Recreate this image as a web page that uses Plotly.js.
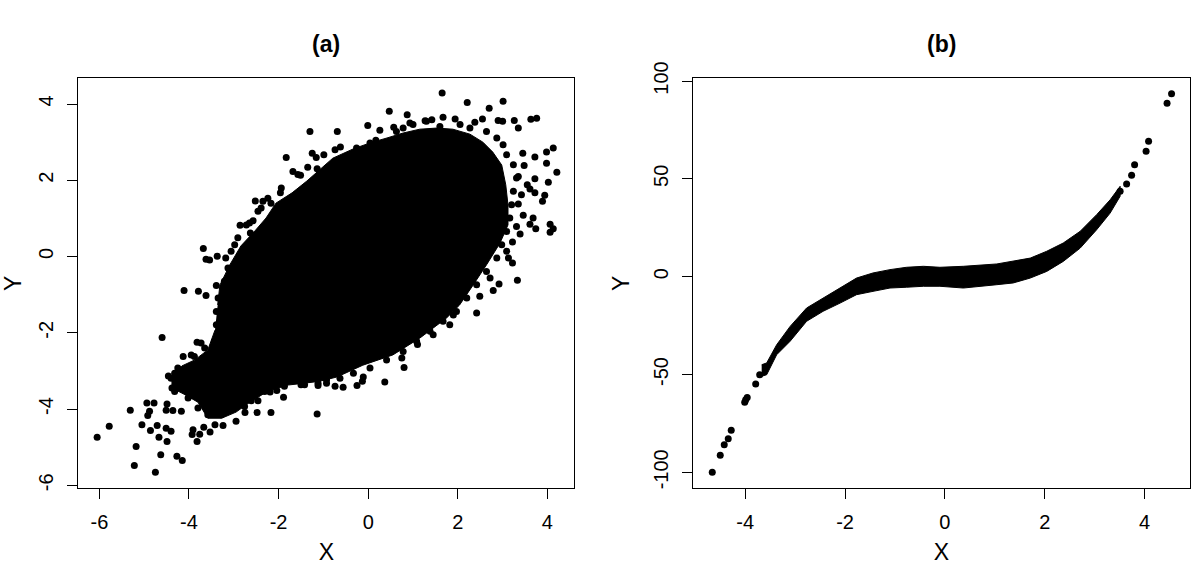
<!DOCTYPE html>
<html>
<head>
<meta charset="utf-8">
<script src="https://cdn.plot.ly/plotly-3.0.1.min.js"></script>
<style>
  html, body { margin: 0; padding: 0; background: #ffffff; }
  #chart { width: 1203px; height: 565px; }
</style>
</head>
<body>
<div id="chart"></div>
<script>
// panel (a): outline of the solid cloud, then the loose points around it
const cloudX = [-3.36,-3.31,-3.09,-2.84,-2.53,-2.28,-2.06,-1.70,-1.37,-1.08,-0.79,-0.34,0.04,0.42,0.78,1.15,1.53,1.89,2.27,2.56,2.78,2.98,3.07,3.12,3.12,2.94,2.65,2.34,2.04,1.75,1.15,0.55,-0.12,-0.70,-1.08,-1.41,-1.79,-2.24,-2.64,-2.95,-3.27,-3.58,-3.80,-4.11,-4.38,-4.38,-4.16,-3.87,-3.58,-3.42];
const cloudY = [-1.27,-0.75,-0.22,0.28,0.67,1.01,1.40,1.67,1.98,2.27,2.58,2.82,2.98,3.11,3.24,3.34,3.37,3.34,3.21,3.00,2.74,2.40,1.88,1.35,0.83,0.35,-0.20,-0.75,-1.27,-1.61,-2.14,-2.58,-2.85,-3.16,-3.27,-3.32,-3.37,-3.53,-3.82,-4.08,-4.24,-4.24,-3.82,-3.61,-3.45,-3.13,-2.87,-2.71,-2.45,-1.93];

// points sitting on the rim of the cloud, which give it its ragged edge
const rimX = [0.04,0.63,0.78,1.00,1.30,1.60,2.05,2.27,2.64,2.87,3.01,3.09,3.24,3.31,3.24,3.20,3.16,3.09,2.98,2.87,2.64,2.42,2.20,1.97,1.67,1.38,1.08,0.78,0.41,0.04,-0.33,-0.63,-0.93,
  -1.57,-1.94,-2.24,-2.46,-2.72,-2.91,-3.06,-3.13,-3.21,-3.35,-3.39,-3.39,-3.43,-3.65,-3.95,-4.25,-4.40,-4.32,-4.02,-3.80,-3.58,-3.21,-2.98,-2.69,-2.31,-1.87,-1.42,-1.12];
const rimY = [2.98,3.28,3.37,3.46,3.55,3.41,3.46,3.37,3.28,3.11,2.93,2.67,2.41,2.06,1.71,1.36,1.01,0.66,0.31,-0.04,-0.39,-0.74,-1.09,-1.44,-1.70,-1.96,-2.22,-2.49,-2.71,-2.92,-3.06,-3.19,-3.23,
  2.15,1.80,1.53,1.19,0.83,0.49,0.14,-0.30,-0.65,-1.09,-1.44,-1.79,-2.22,-2.40,-2.58,-2.92,-3.19,-3.54,-3.71,-3.97,-4.15,-4.06,-3.93,-3.71,-3.54,-3.40,-3.36,-3.32];

const looseX = [-1.30,-1.83,-1.25,-1.16,-0.99,-1.35,-1.68,-1.51,-1.14,-1.96,-2.17,-2.52,-2.35,-2.39,-2.86,-2.65,-2.57,-2.63,-3.68,-3.62,-3.54,-3.37,-3.18,-2.98,
  -4.11,-3.79,-3.62,-3.39,-4.60,-3.82,-3.73,-4.13,-3.88,-4.46,-4.32,-4.38,-4.25,-4.10,-4.94,-4.78,-5.31,-4.88,-4.92,-4.49,-4.51,-4.36,-4.17,-5.05,-4.86,-4.71,
  -4.51,-4.40,-4.67,-4.49,-5.78,-6.05,-5.18,-4.63,-4.27,-4.15,-5.22,-4.75,-3.91,-3.82,-3.93,-3.76,-3.67,-3.53,-3.42,-3.24,-2.95,-2.75,-2.48,-2.17,-1.14,-1.89,
  -2.19,-2.04,-2.61,-2.46,-2.76,-3.09,-3.28,-1.87,-1.50,-1.12,
  1.65,2.21,3.01,2.70,0.47,0.87,1.67,1.94,2.55,2.38,2.90,3.00,3.26,3.63,3.76,3.35,-0.01,-0.69,0.26,0.57,0.93,1.27,1.42,0.17,-0.74,-0.62,-0.26,
  4.13,3.98,3.72,3.98,3.45,3.48,4.21,3.35,4.02,3.72,3.55,3.61,3.72,3.94,3.89,3.42,3.35,3.46,3.68,3.61,3.74,4.06,4.13,4.06,3.39,3.31,3.22,3.09,3.13,3.22,
  3.33,2.92,2.79,2.72,2.49,2.42,1.90,1.82,1.45,1.10,0.75,0.80,0.37,-0.11,-0.13,-0.25,-0.56,-0.74,-0.93];
const looseY = [3.28,2.60,2.71,2.60,2.67,2.34,2.23,2.13,2.30,1.67,1.40,1.46,1.45,1.27,0.82,0.88,0.94,0.62,0.21,-0.07,-0.09,0.01,-0.04,0.31,
  -0.89,-0.91,-1.02,-0.76,-2.12,-2.25,-2.27,-2.62,-2.62,-3.13,-3.06,-3.45,-3.23,-3.01,-3.84,-3.84,-4.03,-4.06,-4.17,-3.87,-4.03,-4.04,-4.06,-4.41,-4.56,-4.43,
  -4.50,-4.58,-4.74,-4.85,-4.45,-4.74,-4.98,-5.20,-5.24,-5.35,-5.48,-5.66,-4.54,-4.85,-4.67,-4.66,-4.48,-4.60,-4.41,-4.43,-4.32,-4.09,-4.09,-4.09,-4.13,-3.69,
  -3.55,-3.51,-3.78,-3.78,-3.93,-3.84,-4.15,-3.29,-3.36,-3.38,
  4.29,4.04,4.07,3.89,3.81,3.72,3.65,3.61,3.61,3.52,3.57,3.55,3.57,3.60,3.63,3.37,3.44,3.28,3.31,3.39,3.50,3.56,3.59,3.05,2.80,2.87,2.85,
  2.85,2.74,2.61,2.45,2.71,2.39,2.21,2.10,1.95,2.04,1.88,1.77,1.67,1.61,1.45,1.62,1.38,1.08,1.01,0.85,0.73,0.85,0.73,0.64,0.59,0.79,0.38,0.14,-0.04,-0.17,
  -0.62,-0.72,-0.89,-0.56,-1.04,-1.48,-1.53,-1.79,-2.05,-2.31,-2.66,-2.91,-3.29,-3.16,-3.27,-3.38,-3.43,-3.40,-3.32];

// panel (b): edges of the dense band, then the sparse points at both ends
const bandX = [-3.67,-3.57,-3.37,-3.10,-2.77,-2.44,-2.10,-1.77,-1.44,-1.10,-0.77,-0.43,-0.10,0.37,1.04,1.37,1.71,2.04,2.37,2.71,3.04,3.31,3.51];
const bandTop = [-45.0,-44.1,-34.8,-25.4,-16.0,-10.9,-5.8,-0.7,1.9,3.6,4.8,5.3,4.8,5.3,6.5,7.8,9.5,13.0,17.2,23.2,31.7,39.3,46.2];
const bandBottom = [-50.9,-50.1,-39.9,-33.0,-22.8,-17.7,-13.5,-9.2,-7.5,-5.8,-5.4,-4.9,-4.9,-5.8,-4.1,-3.2,-0.7,2.7,7.8,14.6,24.0,32.5,41.1];
const tailX = [-4.66,-4.50,-4.42,-4.34,-4.28,-4.01,-3.96,-3.99,-3.79,-3.71,3.51,3.64,3.74,3.80,4.03,4.08,4.45,4.54];
const tailY = [-100.0,-91.3,-85.9,-82.8,-78.5,-64.2,-61.7,-62.9,-54.9,-50.1,43.6,47.4,51.8,57.2,64.1,69.2,88.6,93.5];

const ticksA_x = [-6, -4, -2, 0, 2, 4];
const ticksA_y = [-6, -4, -2, 0, 2, 4];
const ticksB_x = [-4, -2, 0, 2, 4];
const ticksB_y = [-100, -50, 0, 50, 100];
const hyphen = v => String(v);  // R prints a plain hyphen, not a unicode minus

const font = 'Liberation Sans, Arial, sans-serif';
const ink = '#000000';

const data = [
    {
        x: cloudX, y: cloudY, type: 'scatter', mode: 'lines',
        fill: 'toself', fillcolor: ink, line: {color: ink, width: 1},
        xaxis: 'x', yaxis: 'y', hoverinfo: 'skip', showlegend: false
    },
    {
        x: rimX.concat(looseX), y: rimY.concat(looseY), type: 'scatter', mode: 'markers',
        marker: {color: ink, size: 7},
        xaxis: 'x', yaxis: 'y', showlegend: false
    },
    {
        x: bandX.concat(bandX.slice().reverse()),
        y: bandTop.concat(bandBottom.slice().reverse()),
        type: 'scatter', mode: 'lines',
        fill: 'toself', fillcolor: ink, line: {color: ink, width: 1},
        xaxis: 'x2', yaxis: 'y2', hoverinfo: 'skip', showlegend: false
    },
    {
        x: tailX, y: tailY, type: 'scatter', mode: 'markers',
        marker: {color: ink, size: 7},
        xaxis: 'x2', yaxis: 'y2', showlegend: false
    }
];

const axisBase = {
    showline: true, mirror: true, linecolor: ink, linewidth: 1,
    showgrid: false, zeroline: false,
    ticks: 'outside', ticklen: 10, tickwidth: 1, tickcolor: ink,
    tickmode: 'array', ticklabelstandoff: 6,
    tickfont: {family: font, size: 20, color: ink},
    fixedrange: true
};
const xAxis = (domain, range, vals, anchor) => Object.assign({}, axisBase, {
    domain: domain, range: range, anchor: anchor,
    tickvals: vals, ticktext: vals.map(hyphen),
    title: {text: 'X', font: {family: font, size: 23, color: ink}, standoff: 12}
});
const yAxis = (domain, range, vals, anchor) => Object.assign({}, axisBase, {
    domain: domain, range: range, anchor: anchor, tickangle: -90,
    tickvals: vals, ticktext: vals.map(hyphen),
    title: {text: 'Y', font: {family: font, size: 23, color: ink}, standoff: 14}
});

const rowDomain = [0.1363, 0.8611];
const layout = {
    width: 1203, height: 565,
    margin: {l: 0, r: 0, t: 0, b: 0},
    paper_bgcolor: '#ffffff', plot_bgcolor: '#ffffff',
    font: {family: font, color: ink},
    showlegend: false,
    xaxis: xAxis([0.0651, 0.4774], [-6.47, 4.60], ticksA_x, 'y'),
    yaxis: yAxis(rowDomain, [-6.07, 4.67], ticksA_y, 'x'),
    xaxis2: xAxis([0.5763, 0.9888], [-5.04, 4.90], ticksB_x, 'y2'),
    yaxis2: yAxis(rowDomain, [-108.0, 101.3], ticksB_y, 'x2'),
    annotations: [
        {text: '<b>(a)</b>', xref: 'paper', yref: 'paper', x: 0.2713, y: 0.922,
         xanchor: 'center', yanchor: 'middle', showarrow: false,
         font: {family: font, size: 23, color: ink}},
        {text: '<b>(b)</b>', xref: 'paper', yref: 'paper', x: 0.7826, y: 0.922,
         xanchor: 'center', yanchor: 'middle', showarrow: false,
         font: {family: font, size: 23, color: ink}}
    ]
};

Plotly.newPlot('chart', data, layout, {displayModeBar: false, responsive: false, staticPlot: true});
</script>
</body>
</html>
